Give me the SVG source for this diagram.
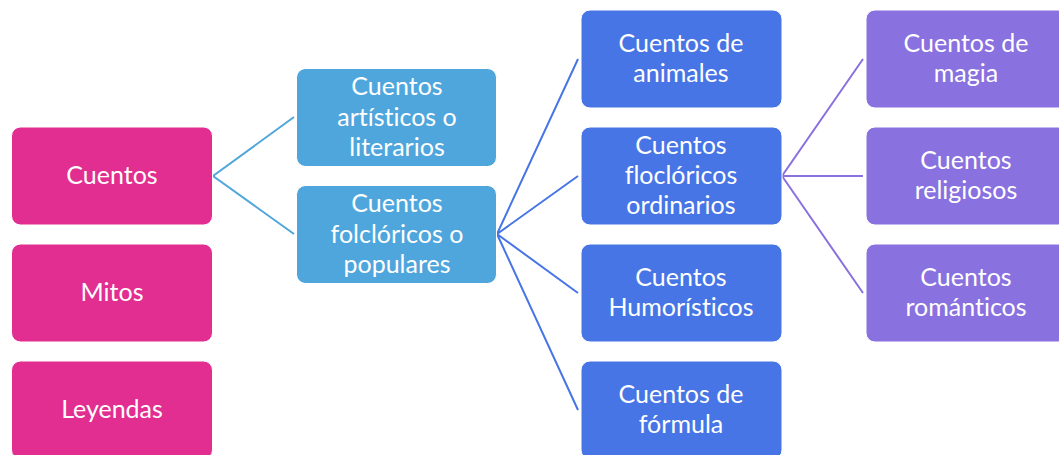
<svg xmlns="http://www.w3.org/2000/svg" width="1059" height="455" viewBox="0 0 1059 455">
<style>
.box{stroke:#ffffff;stroke-width:1}
.pk{fill:#E22E90}
.lb{fill:#4FA6DC}
.bl{fill:#4775E6}
.pu{fill:#8971E0}
text{font-family:Lato,"Open Sans","Liberation Sans",sans-serif;font-size:25px;fill:#ffffff;text-anchor:middle;font-variant-ligatures:none}
.c1{stroke:#4FA6DC;stroke-width:2;fill:none}
.c2{stroke:#4775E6;stroke-width:2;fill:none}
.c3{stroke:#8971E0;stroke-width:2;fill:none}
</style>
<rect width="1059" height="455" fill="#ffffff"/>
<g id="connectors">
<path class="c1" d="M294,117 L213,176 L294,234"/>
<path class="c2" d="M578,59 L497,234 L578,176 M497,234 L578,293 M497,234 L578,410"/>
<path class="c3" d="M863,59 L782,176 L863,176 M782,176 L863,293"/>
</g>
<g id="cuentos"><rect class="box pk" x="11.5" y="127" width="201" height="98" rx="9"/><text x="112" y="184">Cuentos</text></g>
<g id="mitos"><rect class="box pk" x="11.5" y="244" width="201" height="98" rx="9"/><text x="112" y="301">Mitos</text></g>
<g id="leyendas"><rect class="box pk" x="11.5" y="361" width="201" height="98" rx="9"/><text x="112" y="418">Leyendas</text></g>
<g id="artisticos"><rect class="box lb" x="296.5" y="68.5" width="200" height="98" rx="9"/><text x="397" y="95">Cuentos</text><text x="397" y="126">artísticos o</text><text x="397" y="156">literarios</text></g>
<g id="folcloricos"><rect class="box lb" x="296.5" y="185.5" width="200" height="98" rx="9"/><text x="397" y="212">Cuentos</text><text x="397" y="243">folclóricos o</text><text x="397" y="273">populares</text></g>
<g id="animales"><rect class="box bl" x="581" y="10" width="201" height="98" rx="9"/><text x="681" y="52">Cuentos de</text><text x="681" y="82">animales</text></g>
<g id="ordinarios"><rect class="box bl" x="581" y="127" width="201" height="98" rx="9"/><text x="681" y="154">Cuentos</text><text x="681" y="184">floclóricos</text><text x="681" y="214">ordinarios</text></g>
<g id="humoristicos"><rect class="box bl" x="581" y="244" width="201" height="98" rx="9"/><text x="681" y="286">Cuentos</text><text x="681" y="316">Humorísticos</text></g>
<g id="formula"><rect class="box bl" x="581" y="361" width="201" height="98" rx="9"/><text x="681" y="403">Cuentos de</text><text x="681" y="433">fórmula</text></g>
<g id="magia"><rect class="box pu" x="866" y="10" width="201" height="98" rx="9"/><text x="966" y="52">Cuentos de</text><text x="966" y="82">magia</text></g>
<g id="religiosos"><rect class="box pu" x="866" y="127" width="201" height="98" rx="9"/><text x="966" y="169">Cuentos</text><text x="966" y="199">religiosos</text></g>
<g id="romanticos"><rect class="box pu" x="866" y="244" width="201" height="98" rx="9"/><text x="966" y="286">Cuentos</text><text x="966" y="316">románticos</text></g>
</svg>
